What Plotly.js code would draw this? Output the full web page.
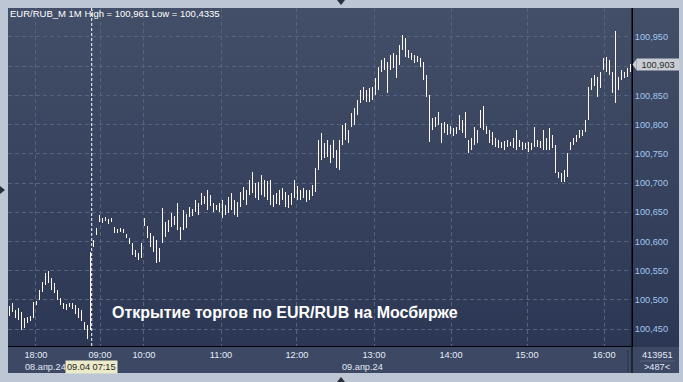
<!DOCTYPE html>
<html><head><meta charset="utf-8">
<script src="https://cdn.plot.ly/plotly-3.0.1.min.js"></script>
<style>
html,body{margin:0;padding:0;background:#bcc6d5;width:683px;height:382px;overflow:hidden;}
#panel{position:absolute;left:8px;top:8px;width:671px;height:365px;background:linear-gradient(#434f68,#2a3553);}
#band{position:absolute;left:8px;top:347px;width:671px;height:26px;background:#3d4964;}
#chart{position:absolute;left:0;top:0;width:683px;height:382px;}
.tri{position:absolute;width:0;height:0;}
</style></head><body>
<div id="panel"></div><div id="band"></div>
<div class="tri" style="left:337px;top:0;border-left:4px solid transparent;border-right:4px solid transparent;border-top:5px solid #2a2f3a"></div>
<div class="tri" style="left:0;top:186px;border-top:4px solid transparent;border-bottom:4px solid transparent;border-left:5px solid #2a2f3a"></div>
<div class="tri" style="left:337px;top:377px;border-left:4px solid transparent;border-right:4px solid transparent;border-bottom:5px solid #2a2f3a"></div>
<div id="chart"></div>
<script>
// 1-minute bars (high / low), resampled to one entry per ~2.3 minutes
const hi = [
100.489,100.495,100.483,100.486,100.479,100.469,100.470,100.472,100.496,100.498,
100.517,100.531,100.546,100.549,100.537,100.529,100.517,100.503,100.495,100.493,
100.495,100.495,100.491,100.486,100.483,100.462,100.457,100.582,100.602,100.623,
100.645,100.640,100.642,100.638,100.640,100.625,100.621,100.623,100.621,100.613,
100.606,100.597,100.585,100.580,100.597,100.640,100.626,100.614,100.609,100.602,
100.589,100.657,100.633,100.637,100.649,100.643,100.666,100.625,100.654,100.647,
100.659,100.655,100.671,100.666,100.683,100.678,100.688,100.679,100.666,100.662,
100.666,100.671,100.662,100.676,100.683,100.671,100.668,100.685,100.693,100.688,
100.705,100.719,100.700,100.702,100.714,100.705,100.703,100.705,100.679,100.683,
100.688,100.691,100.685,100.679,100.683,100.705,100.695,100.688,100.691,100.688,
100.688,100.697,100.726,100.774,100.786,100.769,100.774,100.765,100.774,100.757,
100.774,100.799,100.803,100.791,100.820,100.828,100.842,100.859,100.864,100.859,
100.863,100.864,100.880,100.899,100.911,100.914,100.907,100.919,100.923,100.919,
100.936,100.953,100.948,100.928,100.923,100.919,100.917,100.914,100.907,100.885,
100.851,100.811,100.813,100.822,100.803,100.804,100.801,100.798,100.794,100.796,
100.816,100.808,100.822,100.774,100.777,100.796,100.791,100.825,100.832,100.798,
100.791,100.787,100.777,100.774,100.770,100.772,100.774,100.770,100.777,100.791,
100.774,100.770,100.769,100.770,100.769,100.796,100.774,100.772,100.791,100.777,
100.794,100.782,100.765,100.719,100.717,100.722,100.751,100.770,100.777,100.782,
100.791,100.791,100.808,100.864,100.880,100.885,100.882,100.890,100.914,100.916,
100.911,100.890,100.961,100.882,100.894,100.890,100.897,100.904];
const lo = [
100.472,100.479,100.469,100.465,100.448,100.452,100.460,100.464,100.469,100.491,
100.500,100.513,100.525,100.529,100.517,100.512,100.500,100.491,100.484,100.483,
100.488,100.484,100.476,100.469,100.464,100.448,100.4335,100.448,100.590,100.611,
100.633,100.631,100.635,100.630,100.633,100.614,100.614,100.616,100.614,100.606,
100.596,100.577,100.573,100.568,100.572,100.626,100.606,100.590,100.582,100.563,
100.565,100.597,100.608,100.616,100.625,100.628,100.620,100.602,100.620,100.623,
100.642,100.643,100.650,100.645,100.662,100.664,100.654,100.661,100.650,100.654,
100.650,100.640,100.645,100.649,100.654,100.645,100.642,100.659,100.671,100.662,
100.679,100.683,100.674,100.671,100.679,100.676,100.671,100.662,100.659,100.664,
100.662,100.671,100.659,100.657,100.662,100.674,100.671,100.671,100.674,100.668,
100.671,100.678,100.685,100.722,100.739,100.743,100.745,100.734,100.743,100.726,
100.722,100.765,100.774,100.769,100.796,100.799,100.816,100.837,100.842,100.839,
100.839,100.842,100.851,100.859,100.890,100.894,100.854,100.894,100.897,100.880,
100.902,100.928,100.916,100.914,100.911,100.905,100.907,100.899,100.876,100.847,
100.770,100.791,100.796,100.799,100.769,100.786,100.782,100.784,100.780,100.784,
100.791,100.786,100.777,100.751,100.757,100.765,100.769,100.794,100.791,100.784,
100.769,100.765,100.762,100.760,100.760,100.757,100.762,100.763,100.760,100.757,
100.762,100.757,100.758,100.753,100.757,100.762,100.762,100.760,100.757,100.757,
100.757,100.760,100.717,100.709,100.702,100.702,100.710,100.757,100.765,100.770,
100.777,100.780,100.787,100.808,100.859,100.866,100.847,100.863,100.894,100.890,
100.885,100.854,100.837,100.859,100.876,100.880,100.882,100.890];
const tickBar = [8.83, 30.17, 44.83, 70.5, 95.83, 121.5, 147.17, 172.5, 198.17];
const tickLabels = ['18:00','09:00','10:00','11:00','12:00','13:00','14:00','15:00','16:00'];
const priceTicks = [100.45, 100.50, 100.55, 100.60, 100.65, 100.70, 100.75, 100.80, 100.85, 100.90, 100.95];
const lastPrice = 100.903;
const cursorBar = 27.4;
const titleText = 'EUR/RUB_M 1M High = 100,961 Low = 100,4335';
const noteText = 'Открытие торгов по EUR/RUB на Мосбирже';
const dateLabels = ['08.апр.24', '09.апр.24'];
const cursorLabel = '09.04 07:15';
const volumeText = '413951';
const barsText = '&gt;487&lt;';

const idx = hi.map((_, k) => k);
const W = 683, H = 382, L = 8, R = 51, T = 8, B = 36;
const pw = W - L - R, ph = H - T - B;
const px = x => (x - L) / pw;
const py = y => (H - B - y) / ph;
const grid = '#56637f';
const font = 'Liberation Sans, Arial, sans-serif';
const fmt = v => v.toFixed(3).replace('.', ',');
// the tick hidden under the last-price tag is left blank
const priceText = priceTicks.map(v => Math.abs(v - lastPrice) < 0.01 ? '' : fmt(v));

const trace = {
  type: 'bar', x: idx, base: lo, y: hi.map((h, k) => h - lo[k]),
  width: 0.5, marker: {color: '#fff7f0', line: {width: 0}}, hoverinfo: 'skip'
};

function txt(text, x, y, extra) {
  return Object.assign({text: text, xref: 'paper', yref: 'paper', x: x, y: y,
    xanchor: 'center', yanchor: 'middle', showarrow: false,
    font: {family: font, size: 9.2, color: '#e1e8f4'}}, extra || {});
}

const layout = {
  width: W, height: H,
  margin: {l: L, r: R, t: T, b: B, pad: 0},
  paper_bgcolor: 'rgba(0,0,0,0)', plot_bgcolor: 'rgba(0,0,0,0)',
  separators: ', ', showlegend: false, bargap: 0,
  font: {family: font, size: 9.2, color: '#e1e8f4'},
  title: {text: titleText, x: 10 / W, xanchor: 'left', xref: 'container',
          y: 1 - 14 / H, yref: 'container', yanchor: 'middle',
          font: {family: font, size: 9.5, color: '#ffffff'}},
  xaxis: {range: [-0.5, 207.5], tickmode: 'array', tickvals: tickBar, ticktext: tickLabels,
          showgrid: true, gridcolor: grid, griddash: '4px,3px', gridwidth: 1,
          showline: true, linecolor: '#000000', linewidth: 1, ticks: '', zeroline: false,
          tickfont: {family: font, size: 9.2, color: '#e6ecf6'}, fixedrange: true},
  yaxis: {side: 'right', range: [100.421, 100.9996], tickmode: 'array', tickvals: priceTicks, ticktext: priceText,
          showgrid: true, gridcolor: grid, griddash: '4px,3px', gridwidth: 1,
          showline: true, linecolor: '#000000', linewidth: 1, ticks: '', zeroline: false,
          tickfont: {family: font, size: 9.2, color: '#a3c6f0'}, fixedrange: true},
  shapes: [
    {type: 'line', xref: 'paper', yref: 'paper', x0: 1, x1: 1, y0: py(373), y1: 1, line: {color: '#000', width: 1}},
    {type: 'line', xref: 'paper', yref: 'paper', x0: px(628), x1: px(628), y0: py(350), y1: py(372), line: {color: '#2a3249', width: 1}},
    {type: 'line', xref: 'paper', yref: 'paper', x0: px(640), x1: px(675), y0: py(361), y1: py(361), line: {color: '#59627a', width: 1}},
    {type: 'line', xref: 'x', yref: 'paper', x0: cursorBar, x1: cursorBar, y0: 0, y1: 1, line: {color: '#ffffff', width: 1, dash: '3px,2px'}},
    {type: 'path', xref: 'paper', yref: 'y', fillcolor: '#c8ccd3', line: {width: 0},
     path: `M ${px(632.5)} ${lastPrice} L ${px(636.5)} ${lastPrice + 0.0095} L ${px(636.5)} ${lastPrice - 0.0095} Z`}
  ],
  annotations: [
    txt('<b>' + noteText + '</b>', px(284.5), py(312), {font: {family: font, size: 16, color: '#ffffff'}}),
    txt(dateLabels[0], px(23), py(367), {xanchor: 'left'}),
    txt(dateLabels[1], px(362), py(367)),
    txt(cursorLabel, px(91.5), py(366.5), {bgcolor: '#ecebc9', borderpad: 1,
        font: {family: font, size: 9.2, color: '#1e1e1e'}}),
    {text: fmt(lastPrice), xref: 'paper', yref: 'y', x: px(657.5), y: lastPrice,
     xanchor: 'center', yanchor: 'middle', showarrow: false, bgcolor: '#c8ccd3',
     width: 41, height: 10, borderpad: 0.5, font: {family: font, size: 9.2, color: '#2e2b28'}},
    txt(volumeText, px(657), py(355)),
    txt(barsText, px(657), py(367))
  ]
};

Plotly.newPlot('chart', [trace], layout, {staticPlot: true, displayModeBar: false});
</script>
</body></html>
